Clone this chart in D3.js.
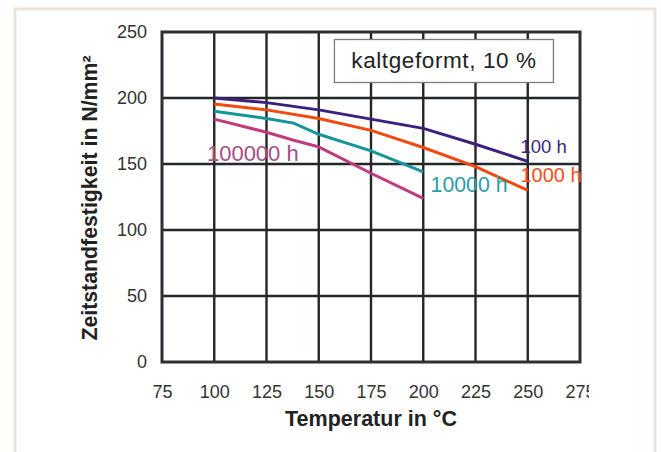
<!DOCTYPE html>
<html><head><meta charset="utf-8">
<script src="https://cdn.jsdelivr.net/npm/d3@7"></script>
<style>
html,body{margin:0;padding:0;background:#fff;}
svg{display:block;font-family:"Liberation Sans",Arial,sans-serif;}
</style></head>
<body>
<svg id="chart" width="661" height="452"></svg>
<script>
// ---- data ----
const xTicks = [75, 100, 125, 150, 175, 200, 225, 250, 275];
const yTicks = [0, 50, 100, 150, 200, 250];
const temps100 = [100, 125, 150, 175, 200, 225, 250];
const values100h = [200, 196.5, 191, 184, 177, 165, 152];
const temps1000 = [100, 125, 150, 175, 200, 225, 250];
const values1000h = [195.5, 191, 184.5, 175.5, 162.5, 148, 130];
const temps10000 = [100, 125, 138, 150, 175, 200];
const values10000h = [190, 184.5, 181, 172.5, 160, 144];
const temps100000 = [100, 125, 138, 150, 175, 200];
const values100000h = [184, 174, 168, 163, 143, 124];
const seriesNames = ["100 h", "1000 h", "10000 h", "100000 h"];
const xTitle = "Temperatur in °C";
const yTitle = "Zeitstandfestigkeit in N/mm²";
const note = "kaltgeformt, 10 %";

const series = [
  {name: seriesNames[0], t: temps100, v: values100h, line: "#3d1f7c", text: "#3b2580", lx: 246.5, ly: 158.5, fs: 18.5},
  {name: seriesNames[1], t: temps1000, v: values1000h, line: "#f04a0e", text: "#f0501a", lx: 246.5, ly: 136.5, fs: 20},
  {name: seriesNames[2], t: temps10000, v: values10000h, line: "#15959a", text: "#2b9ca8", lx: 203.5, ly: 128.5, fs: 21.3},
  {name: seriesNames[3], t: temps100000, v: values100000h, line: "#c13a7b", text: "#aa4c82", lx: 96.5, ly: 152, fs: 22}
];

const svg = d3.select("#chart");
const L = 162, R = 580, T = 32, B = 362;
const x = d3.scaleLinear().domain([75, 275]).range([L, R]);
const y = d3.scaleLinear().domain([0, 250]).range([B, T]);

// outer frame
svg.append("rect").attr("x", 15).attr("y", 9).attr("width", 640).attr("height", 460)
  .attr("fill", "#fff").attr("stroke", "#ede3d9").attr("stroke-width", 3);

// grid
const grid = svg.append("g");
grid.selectAll("line.v").data(xTicks.slice(1, -1)).enter().append("line")
  .attr("x1", d => x(d)).attr("x2", d => x(d)).attr("y1", T).attr("y2", B)
  .attr("stroke", "#23272a").attr("stroke-width", 2.4);
grid.selectAll("line.h").data(yTicks.slice(1, -1)).enter().append("line")
  .attr("x1", L).attr("x2", R).attr("y1", d => y(d)).attr("y2", d => y(d))
  .attr("stroke", "#23272a").attr("stroke-width", 2.4);

// annotation box
const bx = x(157.5), bw = x(262.3) - x(157.5);
svg.append("rect").attr("x", bx).attr("y", 39.5).attr("width", bw).attr("height", 43)
  .attr("fill", "#fff").attr("stroke", "#7a7a7a").attr("stroke-width", 1.3);
svg.append("text").attr("x", bx + bw / 2).attr("y", 68)
  .attr("text-anchor", "middle").attr("font-size", 22.5).attr("letter-spacing", 0.6)
  .attr("fill", "#222").text(note);

// plot border
svg.append("rect").attr("x", L).attr("y", T).attr("width", R - L).attr("height", B - T)
  .attr("fill", "none").attr("stroke", "#2e3133").attr("stroke-width", 3);

// axes (labels only)
svg.append("clipPath").attr("id", "xclip")
  .append("rect").attr("x", 0).attr("y", 0).attr("width", 589).attr("height", 452);
const xWrap = svg.append("g").attr("clip-path", "url(#xclip)");
const xAxis = xWrap.append("g").attr("transform", `translate(0,${B})`)
  .call(d3.axisBottom(x).tickValues(xTicks).tickSize(0).tickPadding(23).tickFormat(d3.format("d")));
xAxis.select(".domain").remove();
xAxis.selectAll("text").attr("font-size", 18).attr("fill", "#333").attr("font-family", "Liberation Sans, Arial, sans-serif");

const yAxis = svg.append("g").attr("transform", `translate(${L},0)`)
  .call(d3.axisLeft(y).tickValues(yTicks).tickSize(0).tickPadding(15).tickFormat(d3.format("d")));
yAxis.select(".domain").remove();
yAxis.selectAll("text").attr("font-size", 18).attr("fill", "#333").attr("font-family", "Liberation Sans, Arial, sans-serif");

// lines
const line = d3.line().x(d => x(d[0])).y(d => y(d[1]));
series.forEach(s => {
  svg.append("path").datum(s.t.map((t, i) => [t, s.v[i]]))
    .attr("d", line).attr("fill", "none").attr("stroke", s.line).attr("stroke-width", 3);
});
series.forEach(s => {
  svg.append("text").attr("x", x(s.lx)).attr("y", y(s.ly))
    .attr("font-size", s.fs).attr("fill", s.text).text(s.name);
});

// axis titles
svg.append("text").attr("x", 371).attr("y", 425.5).attr("text-anchor", "middle")
  .attr("font-size", 21.5).attr("font-weight", "bold").attr("fill", "#222").text(xTitle);
svg.append("text").attr("transform", "translate(97,198) rotate(-90)").attr("text-anchor", "middle")
  .attr("font-size", 21.3).attr("font-weight", "bold").attr("fill", "#222").text(yTitle);
</script>
</body></html>
